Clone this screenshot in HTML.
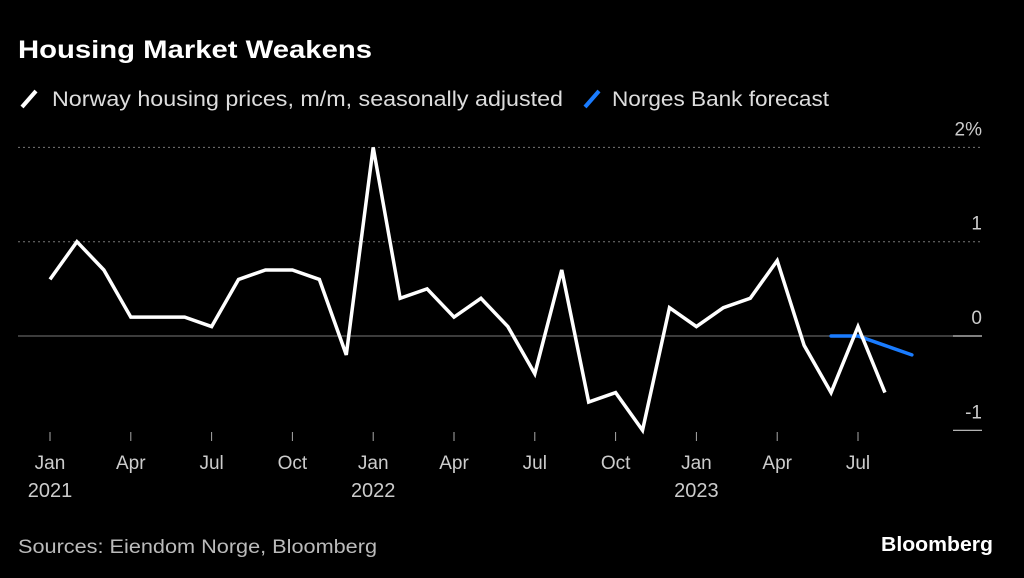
<!DOCTYPE html>
<html><head><meta charset="utf-8"><style>
body{margin:0;background:#000;width:1024px;height:578px;overflow:hidden;font-family:"Liberation Sans",sans-serif}
</style></head><body>
<svg width="1024" height="578" style="position:absolute;left:0;top:0">
<text x="18" y="58" fill="#fff" font-size="25" font-weight="bold" textLength="354" lengthAdjust="spacingAndGlyphs">Housing Market Weakens</text>
<g>
<line x1="22" y1="107" x2="36" y2="91" stroke="#fff" stroke-width="4"/>
<text x="52" y="106" fill="#ddd" font-size="21" textLength="511" lengthAdjust="spacingAndGlyphs">Norway housing prices, m/m, seasonally adjusted</text>
<line x1="585" y1="107" x2="599" y2="91" stroke="#1a7cff" stroke-width="4"/>
<text x="612" y="106" fill="#ddd" font-size="21" textLength="217" lengthAdjust="spacingAndGlyphs">Norges Bank forecast</text>
</g>
<g id="grid"></g><g id="xaxis"></g><g id="series"></g>
<text x="18" y="553" fill="#bbb" font-size="19" textLength="359" lengthAdjust="spacingAndGlyphs">Sources: Eiendom Norge, Bloomberg</text>
<text x="993" y="551" fill="#fff" font-size="20" font-weight="bold" text-anchor="end" textLength="112" lengthAdjust="spacingAndGlyphs">Bloomberg</text>
</svg>
<script>
const housing=[0.6,1.0,0.7,0.2,0.2,0.2,0.1,0.6,0.7,0.7,0.6,-0.2,2.0,0.4,0.5,0.2,0.4,0.1,-0.4,0.7,-0.7,-0.6,-1.0,0.3,0.1,0.3,0.4,0.8,-0.1,-0.6,0.1,-0.6];
const forecastMonths=[29,30,31,32];
const forecast=[0.0,0.0,-0.1,-0.2];
const yTicks=[2,1,0,-1];
const yTickLabels=["2%","1","0","-1"];
const xTickMonths=[0,3,6,9,12,15,18,21,24,27,30];
const xTickLabels=["Jan","Apr","Jul","Oct","Jan","Apr","Jul","Oct","Jan","Apr","Jul"];
const yearLabels=[[0,"2021"],[12,"2022"],[24,"2023"]];
const NS="http://www.w3.org/2000/svg";
const X=m=>50+m*(858-50)/30, Y=v=>336-v*94.3;
function mk(t,a,p){const e=document.createElementNS(NS,t);for(const k in a)e.setAttribute(k,a[k]);p.appendChild(e);return e;}
const g=document.getElementById('grid'),xa=document.getElementById('xaxis'),s=document.getElementById('series');
yTicks.forEach((v,i)=>{
 let l;
 if(v===0){l=mk('line',{x1:18,x2:953,y1:Y(v),y2:Y(v),stroke:'#777','stroke-width':1},g);
  const w=mk('line',{x1:953,x2:982,y1:Y(v),y2:Y(v),stroke:'#ccc','stroke-width':1.2},g);
  }
 else if(v===-1){l=mk('line',{x1:953,x2:982,y1:Y(v),y2:Y(v),stroke:'#ccc','stroke-width':1.2},g);}
 else l=mk('line',{x1:18,x2:982,y1:Y(v),y2:Y(v),stroke:'#777','stroke-width':1,'stroke-dasharray':'2,3'},g);
 
 
 const t=mk('text',{x:982,y:Y(v)-12,fill:'#ccc','font-size':19,'text-anchor':'end'},g);
 t.textContent=yTickLabels[i];
 
 
});
xTickMonths.forEach((m,i)=>{
 const l=mk('line',{x1:X(m),x2:X(m),y1:432,y2:441,stroke:'#aaa','stroke-width':1},xa);
 
 
 const t=mk('text',{x:X(m),y:469,fill:'#ccc','font-size':19,'text-anchor':'middle'},xa);
 t.textContent=xTickLabels[i];
 
 
});
yearLabels.forEach(([m,y])=>{
 const t=mk('text',{x:X(m),y:497,fill:'#ccc','font-size':20,'text-anchor':'middle'},xa);
 t.textContent=y;
 
 
});
const p1=mk('polyline',{points:housing.map((v,i)=>X(i)+','+Y(v)).join(' '),fill:'none',stroke:'#fff','stroke-width':3.5,'stroke-linejoin':'miter'},s);


const p2=mk('polyline',{points:forecast.map((v,i)=>X(forecastMonths[i])+','+Y(v)).join(' '),fill:'none',stroke:'#1a7cff','stroke-width':3.5,'stroke-linecap':'round'},s);


s.appendChild(p1);
</script>
</body></html>
